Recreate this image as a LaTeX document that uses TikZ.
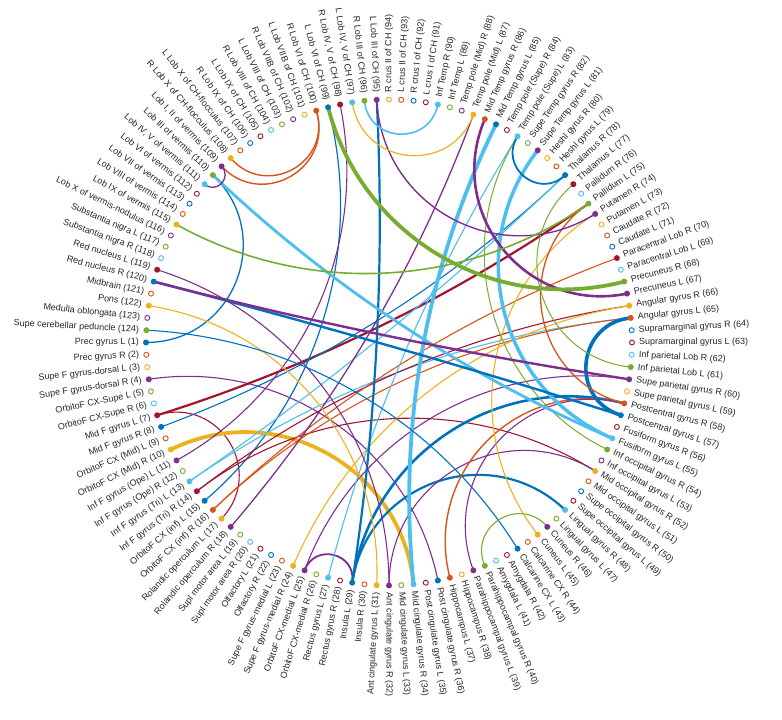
\documentclass[tikz,border=0pt]{standalone}
\usepackage{fontspec}
\setmainfont{Liberation Sans}
\definecolor{c0}{rgb}{0,0.447,0.741}
\definecolor{c1}{rgb}{0.85,0.325,0.098}
\definecolor{c2}{rgb}{0.929,0.694,0.125}
\definecolor{c3}{rgb}{0.494,0.184,0.556}
\definecolor{c4}{rgb}{0.466,0.674,0.188}
\definecolor{c5}{rgb}{0.301,0.745,0.933}
\definecolor{c6}{rgb}{0.635,0.078,0.184}
\pgfdeclarelayer{edgelayer}
\pgfsetlayers{edgelayer,main}
\tikzset{
  mk/.style={circle,fill=white,line width=0.9pt,inner sep=0pt,minimum size=5pt},
  lab/.style={inner sep=0pt,font=\fontsize{9}{10}\selectfont,text=black!85}
}
\newcommand\edgeij[3]{%
  \pgfmathsetmacro\eTa{180+(#1-1)*2.9032258}%
  \pgfmathsetmacro\eTb{180+(#2-1)*2.9032258}%
  \pgfmathsetmacro\eAl{abs(\eTb-\eTa)}%
  \pgfmathsetmacro\eAl{\eAl>180 ? 360-\eAl : \eAl}%
  \pgfmathsetmacro\eK{4/3*tan((180-\eAl)/4)*tan(\eAl/2)}%
  \pgfmathtruncatemacro\eC{mod(min(#1,#2)-1,7)}%
  \draw[line width=#3pt,color=c\eC,line cap=round] (n#1.center) .. controls (\eTa:{(1-\eK)*243}) and (\eTb:{(1-\eK)*243}) .. (n#2.center);%
}
\begin{document}
\begin{tikzpicture}[x=1pt,y=1pt]
\useasboundingbox (-389,-377.5) rectangle (393,342.5);
\foreach \i/\t in {1/Prec gyrus L,2/Prec gyrus R,3/Supe F gyrus-dorsal L,4/Supe F gyrus-dorsal R,5/OrbitoF CX-Supe L,6/OrbitoF CX-Supe R,7/Mid F gyrus L,8/Mid F gyrus R,9/OrbitoF CX (Mid) L,10/OrbitoF CX (Mid) R,11/Inf F gyrus (Ope) L,12/Inf F gyrus (Ope) R,13/Inf F gyrus (Tri) L,14/Inf F gyrus (Tri) R,15/OrbitoF CX (inf) L,16/OrbitoF CX (inf) R,17/Rolandic operculum L,18/Rolandic operculum R,19/Supl motor area L,20/Supl motor area R,21/Olfactory L,22/Olfactory R,23/Supe F gyrus-medial L,24/Supe F gyrus-medial R,25/OrbitoF CX-medial L,26/OrbitoF CX-medial R,27/Rectus gyrus L,28/Rectus gyrus R,29/Insula L,30/Insula R,31/Ant cingulate gyrus L,32/Ant cingulate gyrus R,33/Mid cingulate gyrus L,34/Mid cingulate gyrus R,35/Post cingulate gyrus L,36/Post cingulate gyrus R,37/Hippocampus L,38/Hippocampus R,39/Parahippocampal gyrus L,40/Parahippocampal gyrus R,41/Amygdala L,42/Amygdala R,43/Calcarine CX L,44/Calcarine CX R,45/Cuneus L,46/Cuneus R,47/Lingual gyrus L,48/Lingual gyrus R,49/Supe occipital gyrus L,50/Supe occipital gyrus R,51/Mid occipital gyrus L,52/Mid occipital gyrus R,53/Inf occipital gyrus L,54/Inf occipital gyrus R,55/Fusiform gyrus L,56/Fusiform gyrus R,57/Postcentral gyrus L,58/Postcentral gyrus R,59/Supe parietal gyrus L,60/Supe parietal gyrus R,61/Inf parietal Lob L,62/Inf parietal Lob R,63/Supramarginal gyrus L,64/Supramarginal gyrus R,65/Angular gyrus L,66/Angular gyrus R,67/Precuneus L,68/Precuneus R,69/Paracentral Lob L,70/Paracentral Lob R,71/Caudate L,72/Caudate R,73/Putamen L,74/Putamen R,75/Pallidum L,76/Pallidum R,77/Thalamus L,78/Thalamus R,79/Heshl gyrus L,80/Heshl gyrus R,81/Supe Temp gyrus L,82/Supe Temp gyrus R,83/Temp pole (Supe) L,84/Temp pole (Supe) R,85/Mid Temp gyrus L,86/Mid Temp gyrus R,87/Temp pole (Mid) L,88/Temp pole (Mid) R,89/Inf Temp L,90/Inf Temp R,91/L crus I of CH,92/R crus I of CH,93/L crus II of CH,94/R crus II of CH,95/L Lob III of CH,96/R Lob III of CH,97/{L Lob IV, V of CH},98/{R Lob IV, V of CH},99/L Lob VI of CH,100/R Lob VI of CH,101/L Lob VIIB of CH,102/R Lob VIIB of CH,103/L Lob VIII of CH,104/R Lob VIII of CH,105/L Lob IX of CH,106/R Lob IX of CH,107/L Lob X of CH-flocculus,108/R Lob X of CH-flocculus,109/{Lob I, II of vermis},110/Lob III of vermis,111/{Lob IV, V of vermis},112/Lob VI of vermis,113/Lob VII of vermis,114/Lob VIII of vermis,115/Lob IX of vermis,116/Lob X of vermis-nodulus,117/Substantia nigra L,118/Substantia nigra R,119/Red nucleus L,120/Red nucleus R,121/Midbrain,122/Pons,123/Medulla oblongata,124/Supe cerebellar peduncle}{
  \pgfmathsetmacro\ang{180+(\i-1)*2.9032258}
  \pgfmathtruncatemacro\ci{mod(\i-1,7)}
  \pgfmathtruncatemacro\flip{cos(\ang)<-0.001 ? 1 : 0}
  \node[mk,draw=c\ci] (n\i) at (\ang:243) {};
  \ifnum\flip=1
    \node[lab,anchor=east,rotate=\ang-180] (t\i) at (\ang:250) {\t\ (\i)};
  \else
    \node[lab,anchor=west,rotate=\ang] (t\i) at (\ang:250) {\t\ (\i)};
  \fi
}
\begin{pgfonlayer}{edgelayer}
\foreach \a/\b/\w in {1/110/1.3,4/36/1.1,7/17/1.1,7/75/2.2,8/78/1.1,15/99/1.2,10/34/3.8,11/98/1.1,13/65/1.1,13/78/1.1,14/52/1.1,14/66/1.1,16/65/1.1,16/70/1.1,18/87/1.3,24/66/1.1,25/29/1.8,25/60/1.1,27/83/1.1,29/48/2.2,29/58/2.6,29/95/2.2,31/122/1.1,32/52/1.1,32/119/1.1,34/85/3.8,43/124/1.1,37/58/1.4,39/58/1.1,40/46/1.1,45/74/1.1,54/83/1.0,55/81/3.5,55/110/2.8,57/65/3.6,57/120/2.4,58/75/1.3,60/120/2.4,61/77/1.0,67/86/2.6,68/99/3.8,74/95/1.4,75/115/1.6,78/83/1.8,87/97/1.2,90/96/1.6,100/108/1.4,100/109/1.4,109/111/1.3}{
  \edgeij{\a}{\b}{\w}
}
\end{pgfonlayer}
\foreach \i in {1,4,7,8,10,11,13,14,15,16,17,18,24,25,27,29,31,32,34,36,37,39,40,43,45,46,48,52,54,55,57,58,60,61,65,66,67,68,70,74,75,77,78,81,83,85,86,87,90,95,96,97,98,99,100,108,109,110,111,115,119,120,122,124}{
  \pgfmathtruncatemacro\ci{mod(\i-1,7)}
  \fill[c\ci] (n\i.center) circle (2.5pt);
}
\end{tikzpicture}
\end{document}
